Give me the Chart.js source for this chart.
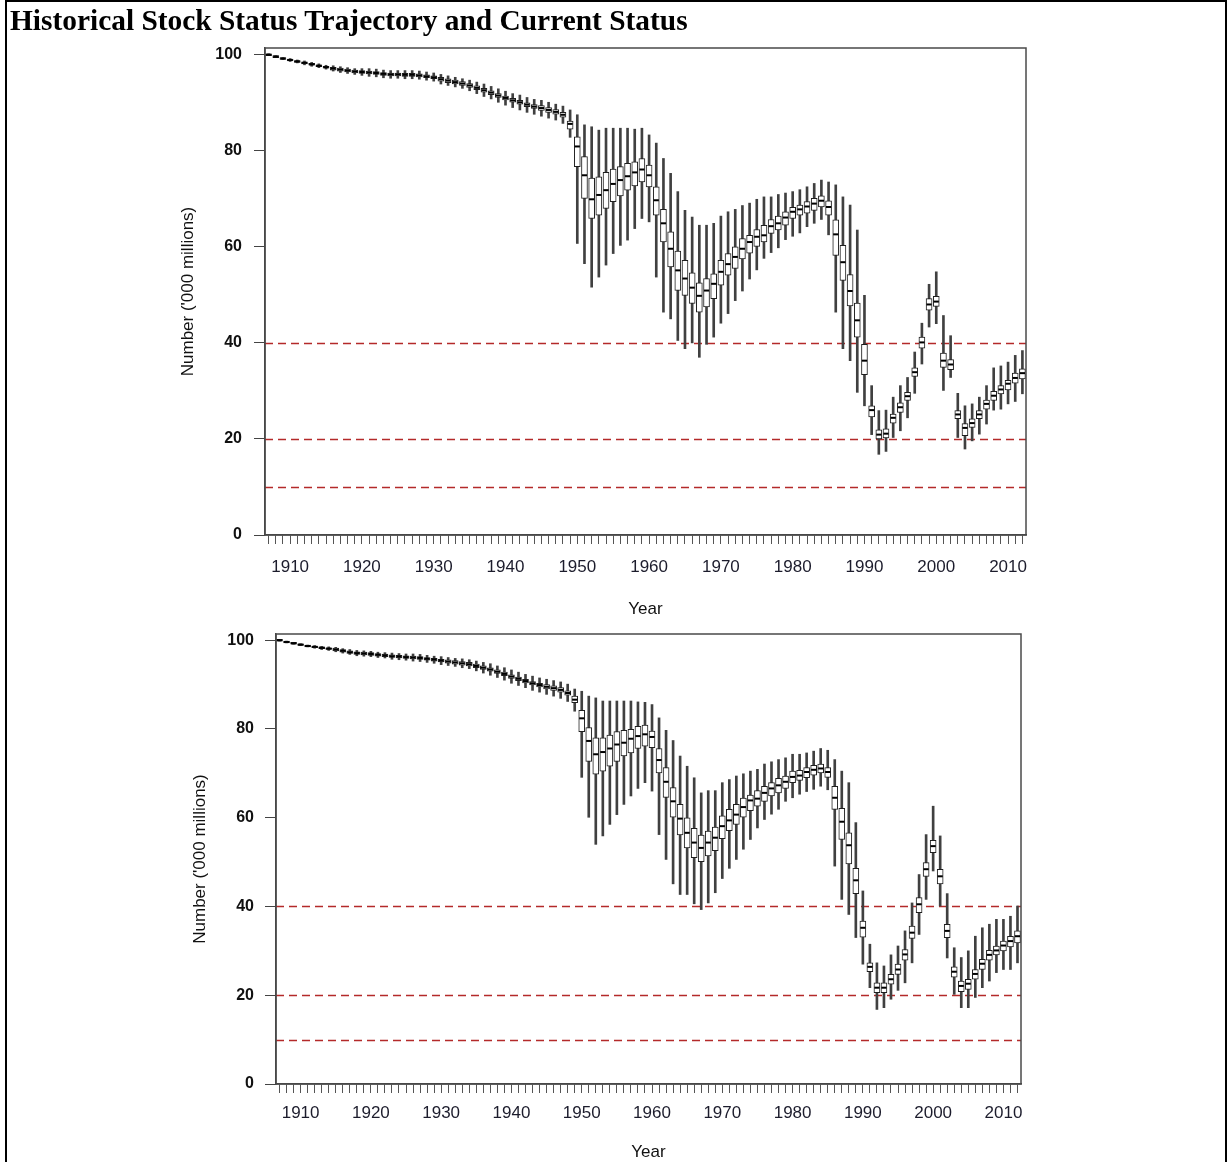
<!DOCTYPE html>
<html><head><meta charset="utf-8">
<script src="https://cdn.jsdelivr.net/npm/chart.js@4.4.0/dist/chart.umd.min.js"></script>
<style>
html,body{margin:0;padding:0;background:#fff;}
body{width:1229px;height:1162px;position:relative;overflow:hidden;}
#frame{position:absolute;left:5px;top:0;width:1222px;height:1180px;border:2px solid #000;box-sizing:border-box;}
#title{position:absolute;left:10px;top:4px;font:bold 29.4px/1.15 "Liberation Serif","Times New Roman",serif;color:#000;z-index:2;white-space:nowrap;}
.wrap{position:absolute;left:0;width:1229px;}
#w1{top:1px;height:620px;}
#w2{top:613px;height:550px;}
canvas{display:block;}
</style>
</head>
<body>
<div id="frame"></div>
<div id="title">Historical Stock Status Trajectory and Current Status</div>
<div class="wrap" id="w1"><canvas id="c1" width="1229" height="620"></canvas></div>
<div class="wrap" id="w2"><canvas id="c2" width="1229" height="550"></canvas></div>
<script>
// ---------- DATA ----------
const years = [1907,1908,1909,1910,1911,1912,1913,1914,1915,1916,1917,1918,1919,1920,1921,1922,1923,1924,1925,1926,1927,1928,1929,1930,
1931,1932,1933,1934,1935,1936,1937,1938,1939,1940,1941,1942,1943,1944,1945,1946,1947,1948,1949,1950,1951,1952,1953,1954,1955,1956,1957,1958,1959,1960,
1961,1962,1963,1964,1965,1966,1967,1968,1969,1970,1971,1972,1973,1974,1975,1976,1977,1978,1979,1980,1981,1982,1983,1984,1985,1986,1987,1988,1989,1990,
1991,1992,1993,1994,1995,1996,1997,1998,1999,2000,2001,2002,2003,2004,2005,2006,2007,2008,2009,2010,2011,2012];
const xTickLabels = [1910,1920,1930,1940,1950,1960,1970,1980,1990,2000,2010];
const yTickLabels = [0,20,40,60,80,100];
const referenceLevels = [40,20,10];

// Top panel
const topLow = [99.8,99.4,99.0,98.6,98.3,97.9,97.6,97.3,97.0,96.6,96.3,96.1,95.9,95.7,95.5,95.4,95.2,95.1,95.1,95.0,95.0,94.9,94.7,94.5,
93.9,93.6,93.3,93.0,92.5,91.9,91.3,90.8,90.1,89.5,89.0,88.5,88.0,87.6,87.2,86.8,86.4,85.7,82.8,60.7,56.5,51.6,53.7,56.2,58.6,60.3,61.4,63.8,65.9,65.2,
53.7,46.4,45.0,40.5,38.8,40.0,37.0,39.7,41.2,44.1,46.1,48.8,50.8,53.3,55.2,57.6,58.8,59.8,61.5,62.2,62.9,64.2,64.9,65.7,62.5,46.4,38.8,36.3,29.7,26.9,
20.9,16.8,17.4,20.3,21.7,24.4,29.5,35.6,43.3,44.0,30.1,32.8,20.3,17.9,19.6,21.0,23.1,26.0,26.2,27.3,27.8,29.4];
const topQ1 = [99.8,99.4,99.0,98.7,98.4,98.1,97.8,97.5,97.2,96.8,96.6,96.4,96.2,96.1,96.0,95.9,95.7,95.6,95.6,95.5,95.5,95.4,95.2,95.0,
94.5,94.2,93.9,93.6,93.2,92.7,92.2,91.7,91.1,90.6,90.1,89.7,89.2,88.8,88.4,88.0,87.6,87.0,84.5,76.7,70.1,65.9,66.6,68.0,69.4,70.6,71.8,72.7,73.5,72.5,
66.6,61.0,55.8,50.9,49.9,48.2,46.4,47.5,49.2,52.0,54.1,55.5,57.5,58.7,60.1,61.0,62.8,63.5,64.5,65.9,66.6,67.0,67.6,68.3,66.6,58.2,53.0,47.7,41.2,33.4,
24.6,20.0,20.2,23.3,25.5,28.0,33.0,38.9,46.8,47.6,34.9,34.4,24.2,20.7,22.4,24.2,26.2,28.0,29.4,30.2,31.6,32.5];
const topMedian = [100.0,99.6,99.2,98.9,98.6,98.3,98.0,97.7,97.4,97.1,96.9,96.7,96.5,96.4,96.3,96.2,96.0,95.9,95.9,95.8,95.8,95.7,95.5,95.3,
94.9,94.6,94.3,94.0,93.6,93.1,92.6,92.1,91.5,91.0,90.5,90.1,89.6,89.2,88.9,88.5,88.1,87.5,85.6,80.9,74.9,69.9,70.8,71.8,73.1,73.9,74.7,75.5,76.1,74.9,
69.7,64.9,59.6,55.1,53.4,51.5,49.8,50.9,52.3,54.8,56.4,57.9,59.6,61.0,62.1,62.4,64.3,64.9,66.1,67.3,67.8,68.4,69.0,69.6,68.3,62.6,56.8,50.8,44.7,36.3,
26.0,20.9,21.1,24.4,26.6,28.9,33.9,40.1,48.0,48.6,36.3,35.5,25.1,22.3,23.3,25.1,27.3,29.0,30.3,31.5,32.7,33.7];
const topQ3 = [100.2,99.8,99.4,99.1,98.8,98.5,98.2,97.9,97.6,97.4,97.2,97.0,96.8,96.7,96.6,96.5,96.3,96.2,96.2,96.1,96.1,96.0,95.8,95.6,
95.3,95.0,94.7,94.4,94.0,93.5,93.0,92.5,91.9,91.4,90.9,90.5,90.0,89.6,89.4,89.0,88.6,88.0,86.2,82.9,78.8,74.3,74.6,75.5,76.2,76.7,77.4,77.7,78.4,77.0,
72.5,67.8,63.1,59.1,57.2,54.6,52.5,53.4,54.4,57.2,58.6,60.0,61.7,62.4,63.6,64.5,65.7,66.4,67.3,68.2,68.7,69.4,70.1,70.6,69.6,65.6,60.3,54.2,48.3,39.7,
26.9,21.9,22.1,25.2,27.5,29.7,34.8,41.2,49.2,49.7,37.9,36.5,25.9,23.2,24.2,25.9,28.1,29.9,31.1,32.2,33.7,34.6];
const topHigh = [100.2,99.8,99.4,99.2,98.9,98.7,98.4,98.1,97.8,97.7,97.5,97.3,97.1,97.1,97.1,97.0,96.8,96.7,96.7,96.7,96.7,96.6,96.4,96.2,
95.9,95.6,95.3,95.0,94.7,94.3,93.9,93.4,92.9,92.4,91.9,91.6,91.1,90.7,90.5,90.1,89.7,89.3,88.5,87.5,85.4,85.0,84.3,84.7,84.7,84.7,84.7,84.5,84.7,83.3,
81.6,78.4,75.3,71.5,67.6,66.2,64.5,64.5,64.9,66.4,67.3,67.8,68.6,69.1,69.9,70.4,70.4,70.9,71.2,71.5,71.9,72.5,73.2,73.9,73.5,72.9,70.4,68.7,63.5,49.9,
31.1,25.9,26.0,28.7,31.1,32.8,38.1,44.1,52.2,54.8,45.7,41.5,29.5,26.9,27.3,28.7,31.1,34.8,35.2,36.0,37.4,38.4];

// Bottom panel
const botLow = [99.8,99.4,99.1,98.8,98.5,98.2,97.9,97.7,97.4,97.1,96.8,96.5,96.4,96.3,96.1,96.0,95.7,95.6,95.5,95.3,95.2,95.0,94.8,94.5,
94.3,94.1,93.8,93.6,93.1,92.6,92.1,91.6,91.0,90.3,89.8,89.3,88.7,88.3,87.8,87.4,86.9,86.2,84.0,69.1,60.1,54.0,55.9,58.5,60.7,63.0,64.9,66.6,67.9,66.0,
56.2,50.6,45.1,42.7,42.7,40.6,39.3,40.8,43.1,46.3,48.6,50.6,52.9,55.1,57.7,59.6,60.8,61.9,63.7,64.5,65.3,65.9,66.4,67.1,66.3,49.1,41.6,38.2,33.0,27.0,
21.7,16.8,17.2,19.1,21.1,22.8,27.3,33.7,41.6,48.0,40.1,28.4,20.2,17.2,17.2,19.5,21.7,23.2,25.1,25.8,25.8,27.3];
const botQ1 = [99.8,99.4,99.1,98.8,98.5,98.3,98.1,97.9,97.6,97.3,97.0,96.8,96.7,96.6,96.4,96.3,96.1,96.0,95.9,95.8,95.7,95.5,95.3,95.1,
94.8,94.6,94.4,94.2,93.8,93.4,93.0,92.5,92.0,91.4,90.9,90.4,89.9,89.5,89.0,88.7,88.3,87.6,85.9,79.4,72.7,69.8,70.5,71.6,72.7,73.9,74.6,75.6,76.1,75.8,
70.1,64.6,60.1,56.1,53.2,51.0,50.1,51.4,52.6,55.3,57.1,58.5,60.1,61.6,62.6,63.7,64.9,65.6,66.6,67.9,68.4,69.0,69.6,70.1,69.1,61.9,55.1,49.6,42.9,33.1,
25.3,20.6,20.6,22.5,24.7,27.9,32.8,38.6,46.8,52.1,45.1,33.0,24.1,20.8,21.3,23.6,25.8,27.9,29.1,30.0,30.9,31.8];
const botMedian = [100.0,99.6,99.3,99.0,98.7,98.5,98.3,98.1,97.9,97.6,97.3,97.1,97.0,96.9,96.7,96.6,96.4,96.3,96.2,96.1,96.0,95.8,95.6,95.4,
95.2,95.0,94.8,94.6,94.2,93.8,93.4,92.9,92.4,91.8,91.3,90.8,90.3,89.9,89.5,89.2,88.8,88.1,86.6,82.4,77.3,74.3,74.8,75.6,76.5,76.9,77.8,78.4,78.8,78.2,
73.0,68.1,63.7,59.8,56.6,54.4,53.2,54.4,55.5,58.1,59.4,60.7,62.4,63.9,64.3,65.6,66.6,67.3,68.1,69.2,69.5,70.3,70.8,71.1,70.3,64.5,59.1,53.8,45.9,35.2,
26.4,21.7,21.7,23.6,25.8,29.2,34.1,40.5,48.4,53.6,46.8,34.5,25.3,22.1,22.6,24.8,27.1,29.1,30.1,31.2,32.2,33.3];
const botQ3 = [100.2,99.8,99.5,99.2,98.9,98.7,98.5,98.3,98.2,97.9,97.6,97.4,97.3,97.2,97.0,96.9,96.7,96.6,96.5,96.4,96.3,96.1,95.9,95.7,
95.6,95.4,95.2,95.0,94.6,94.2,93.8,93.3,92.8,92.2,91.7,91.2,90.7,90.3,90.0,89.7,89.3,88.6,87.4,84.2,80.3,78.0,78.0,78.6,79.4,79.7,79.9,80.6,80.9,79.5,
75.6,71.3,66.8,63.0,60.0,57.6,56.1,57.0,57.9,60.4,61.9,63.0,64.4,65.1,66.1,67.1,67.9,68.9,69.4,70.5,70.7,71.3,71.8,72.1,71.3,67.1,62.1,56.6,48.6,36.7,
27.3,22.8,22.8,24.7,27.0,30.3,35.6,42.0,49.9,54.9,48.4,36.0,26.4,23.2,23.6,25.8,28.1,30.1,31.1,32.2,33.3,34.5];
const botHigh = [100.2,99.8,99.5,99.2,98.9,98.8,98.6,98.5,98.4,98.1,97.9,97.7,97.6,97.5,97.3,97.2,97.1,97.0,96.9,96.9,96.8,96.6,96.4,96.3,
96.1,95.9,95.8,95.6,95.3,95.0,94.7,94.2,93.8,93.3,92.8,92.3,91.9,91.5,91.2,90.9,90.6,90.1,89.0,88.5,87.4,87.0,86.3,86.3,86.3,86.3,86.3,86.1,86.0,85.5,
82.5,79.7,77.4,73.9,71.6,69.0,65.6,66.1,66.1,67.9,68.6,69.4,69.9,70.5,70.9,72.1,72.6,73.1,73.5,74.3,74.3,74.6,75.0,75.6,75.2,73.1,70.5,67.9,58.9,43.5,
31.5,27.3,26.6,29.1,31.1,34.5,40.8,47.2,56.2,62.6,55.9,42.9,30.7,28.5,30.0,33.3,35.2,36.0,37.1,37.1,37.8,40.1];

// ---------- CHART ----------
const FONT = '"Liberation Sans", Arial, sans-serif';

const framePlugin = {
  id: 'frameBox',
  beforeDatasetsDraw(chart) {
    const {ctx, chartArea: a, scales: {y}} = chart;
    ctx.save();
    ctx.strokeStyle = '#b42a2a';
    ctx.lineWidth = 1.6;
    ctx.setLineDash([8, 5]);
    referenceLevels.forEach(v => {
      const py = Math.round(y.getPixelForValue(v)) + 0.5;
      ctx.beginPath();
      ctx.moveTo(a.left, py);
      ctx.lineTo(a.right, py);
      ctx.stroke();
    });
    ctx.restore();
  },
  afterDraw(chart) {
    const {ctx, chartArea: a} = chart;
    ctx.save();
    ctx.strokeStyle = '#4a4a4a';
    ctx.lineWidth = 1.5;
    ctx.strokeRect(a.left, a.top, a.right - a.left, a.bottom - a.top);
    ctx.restore();
  }
};

function makePanel(id, lo, q1, med, q3, hi, lay) {
  const ctx = document.getElementById(id).getContext('2d');
  return new Chart(ctx, {
    type: 'bar',
    data: {
      labels: years,
      datasets: [
        {
          type: 'line', label: 'median', data: med, showLine: false,
          pointStyle: 'line', pointRadius: 2.6, pointBorderWidth: 2,
          borderColor: '#000', backgroundColor: '#000', order: 1
        },
        {
          type: 'bar', label: 'box', data: years.map((_, i) => [q1[i], q3[i]]),
          backgroundColor: '#ffffff', borderColor: '#1e1e1e', borderWidth: 1,
          borderSkipped: false, barThickness: 6, grouped: false, order: 2
        },
        {
          type: 'bar', label: 'whisker', data: years.map((_, i) => [lo[i], hi[i]]),
          backgroundColor: '#404040', borderWidth: 0,
          barThickness: 2, grouped: false, order: 3
        }
      ]
    },
    options: {
      responsive: false,
      animation: false,
      events: [],
      layout: { padding: lay.padding },
      plugins: { legend: { display: false }, tooltip: { enabled: false } },
      scales: {
        x: {
          type: 'category',
          offset: true,
          grid: { display: true, drawOnChartArea: false, drawTicks: true, tickLength: 9, color: '#555', offset: false, lineWidth: 1 },
          border: { display: true, color: '#444', width: 1.5 },
          ticks: {
            autoSkip: false, maxRotation: 0, minRotation: 0, padding: lay.xPad,
            color: '#1c1c2c', font: { family: FONT, size: 17 },
            callback: (v, i) => xTickLabels.includes(years[i]) ? String(years[i]) : ''
          },
          title: { display: true, text: 'Year', color: '#111', font: { family: FONT, size: 17 }, padding: 0 },
          afterFit: s => { s.height = lay.xH; }
        },
        y: {
          type: 'linear', min: 0, max: 101.4,
          afterBuildTicks: s => { s.ticks = yTickLabels.map(v => ({ value: v })); },
          grid: { display: true, drawOnChartArea: false, drawTicks: true, tickLength: 11, color: '#444' },
          border: { display: true, color: '#444', width: 1.5 },
          ticks: { padding: lay.yPad, color: '#111', font: { family: FONT, size: 16, weight: 'bold' } },
          title: { display: true, text: "Number ('000 millions)", color: '#111', font: { family: FONT, size: 17 }, padding: 0 },
          afterFit: s => { s.width = lay.yW; }
        }
      }
    },
    plugins: [framePlugin]
  });
}

makePanel('c1', topLow, topQ1, topMedian, topQ3, topHigh,
  { padding: { top: 47, left: 178, right: 203, bottom: 1 }, xH: 85, yW: 87, xPad: 13, yPad: 12 });
makePanel('c2', botLow, botQ1, botMedian, botQ3, botHigh,
  { padding: { top: 21, left: 190, right: 208, bottom: 0 }, xH: 79, yW: 86, xPad: 10, yPad: 11 });
</script>
</body></html>
